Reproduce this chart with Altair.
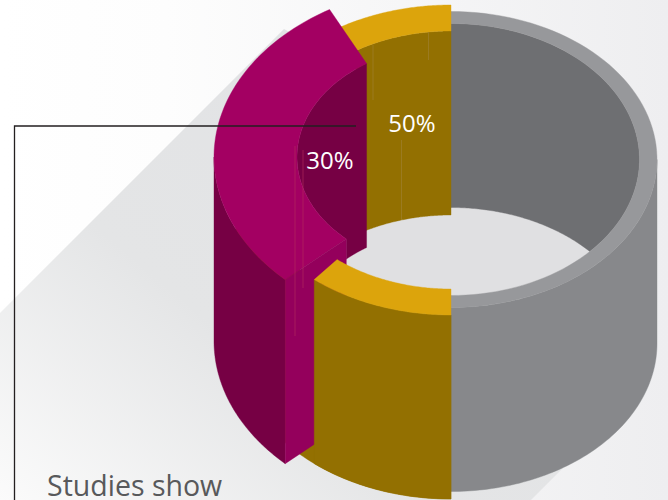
import numpy as np
import pandas as pd
import altair as alt

W, H = 668, 500

# Shares printed on the ring
share_labels = ["50%", "30%"]
share_values = [50, 30]
label_x = [412, 330]
label_y = [125, 161.5]

# Ring proportions: centre x, centre y, x radius, y radius
GREY_OUT = (451, 159.5, 206, 148)
GREY_IN = (451, 159.5, 188.5, 136)
GOLD_OUT = (451, 160, 215, 155)
GOLD_IN = (451, 160, 179, 129)
PLUM_OUT = (452, 157, 238, 172)
PLUM_IN = (452, 157, 155, 112)
DEPTH = 184

GOLD_START = 90
GOLD_FRONT_END = 129.5
PLUM_START = 134.5
# The pulled-out plum slice is slightly foreshortened by the tilt of the ring
PLUM_FORESHORTEN = 0.968
# Its inner edge is skewed against the outer one by a couple of degrees
PLUM_IN_START_SHIFT = -1.5
PLUM_IN_END_SHIFT = -2.5
GOLD_END = GOLD_START + share_values[0] * 3.6
PLUM_END = PLUM_START + share_values[1] * 3.6 * PLUM_FORESHORTEN
PLUM_IN_START = PLUM_START + PLUM_IN_START_SHIFT
PLUM_IN_END = PLUM_END + PLUM_IN_END_SHIFT

COLORS = {
    "grey_wall": "#87888b", "grey_rim": "#97989b", "grey_inner": "#6e6f72", "hole": "#e0e0e2",
    "gold_rim": "#dca40c", "gold_wall": "#937001",
    "plum_top": "#a30062", "plum_wall": "#760044", "plum_cut": "#94005c",
}

# Thin seams left on the faces: x, top, bottom, colour
seam_x = [295, 303, 373, 428.5, 401.5]
seam_top = [146, 150, 45, 32, 140]
seam_bottom = [336, 288, 100, 60, 220]
seam_color = ["#b8305e", "#b8305e", "#a2843a", "#a2843a", "#a2843a"]


def arc(e, t0, t1, dy=0, n=80):
    cx, cy, a, b = e
    t = np.radians(np.linspace(t0, t1, n))
    return list(zip(cx + a * np.cos(t), cy + b * np.sin(t) + dy))


def wall(e, t0, t1):
    return arc(e, t0, t1) + arc(e, t1, t0, DEPTH)


def band(outer, inner, t0, t1, in0=None, in1=None):
    return arc(outer, t0, t1) + arc(inner, t1 if in1 is None else in1, t0 if in0 is None else in0)


def at(e, t, dy=0):
    return arc(e, t, t, dy, 1)


# Where the upper rim of the far inner wall meets the hole outline on the grey side
cx, cy, a, b = GREY_IN
meet = np.degrees(np.arcsin(DEPTH / (2 * b)))
grey_inner = arc(GREY_IN, -90, meet) + arc(GREY_IN, -meet, -90, DEPTH)

# Plum inner wall: the hole outline stops where the cut face begins
plum_cut_x = at(PLUM_IN, PLUM_IN_START)[0][0]
plum_low = 180 + np.degrees(np.arccos((PLUM_IN[0] - plum_cut_x) / PLUM_IN[2]))
plum_inner = arc(PLUM_IN, PLUM_IN_END, PLUM_IN_START) + arc(PLUM_IN, plum_low, PLUM_IN_END, DEPTH)

plum_cut = (
    at(PLUM_OUT, PLUM_START)
    + at(PLUM_IN, PLUM_IN_START)
    + at(PLUM_IN, PLUM_IN_START, DEPTH)
    + at(PLUM_OUT, PLUM_START, DEPTH)
)

shapes = [
    ("grey_wall", wall(GREY_OUT, 0, 90)),
    ("hole", arc(GREY_IN, 0, 360, n=240)),
    ("grey_inner", grey_inner),
    ("grey_rim", band(GREY_OUT, GREY_IN, -90, 90)),
    ("gold_wall", wall(GOLD_OUT, GOLD_START, 180)),
    ("gold_wall", wall(GOLD_IN, 238, GOLD_END)),
    ("gold_rim", band(GOLD_OUT, GOLD_IN, 238, GOLD_END)),
    ("plum_wall", plum_inner),
    ("plum_wall", wall(PLUM_OUT, PLUM_START, 180)),
    ("plum_top", band(PLUM_OUT, PLUM_IN, PLUM_START, PLUM_END, PLUM_IN_START, PLUM_IN_END)),
    ("plum_cut", plum_cut),
    ("gold_wall", wall(GOLD_OUT, GOLD_START, GOLD_FRONT_END)),
    ("gold_rim", band(GOLD_OUT, GOLD_IN, GOLD_START, GOLD_FRONT_END)),
]

x_scale = alt.Scale(domain=[0, W], range=[0, W])
y_scale = alt.Scale(domain=[0, H], range=[0, H])
X = alt.X("x:Q", scale=x_scale, axis=None)
Y = alt.Y("y:Q", scale=y_scale, axis=None)


def polygon(points, fill, stroke=None):
    pts = list(points) + [points[0]]
    df = pd.DataFrame({"x": [p[0] for p in pts], "y": [p[1] for p in pts], "i": range(len(pts))})
    return alt.Chart(df).mark_line(fill=fill, stroke=stroke or fill, strokeWidth=0.4, clip=True).encode(
        x=X, y=Y, order=alt.Order("i:Q", sort="ascending")
    )


def grad(stops, x1, y1, x2, y2):
    return alt.Gradient(
        gradient="linear", x1=x1, y1=y1, x2=x2, y2=y2,
        stops=[alt.GradientStop(offset=o, color=c) for o, c in stops],
    )


backdrop = alt.Chart(pd.DataFrame({"x": [0], "x2": [W], "y": [0], "y2": [H]})).mark_rect(
    fill=grad([(0, "#ffffff"), (0.25, "#fdfdfd"), (0.6, "#f6f6f7"), (1, "#eeeef0")], 0, 0, 1, 0)
).encode(x=X, x2="x2:Q", y=Y, y2="y2:Q")

# Long cast shadow falling to the lower left of the ring
shadow_edge = [(0, 313), (284, 29), (340, 60), (563, 468), (531, 500), (0, 500)]
shadow = polygon(
    shadow_edge,
    grad([(0, "#fbfbfb"), (0.5, "#e4e5e6"), (1, "#e2e3e5")], 0, 1, 0.75, 0.25),
    "#00000000",
)

layers = [backdrop, shadow] + [polygon(pts, COLORS[name]) for name, pts in shapes]

seams = pd.DataFrame({"x": seam_x, "y": seam_top, "y2": seam_bottom, "c": seam_color})
layers.append(alt.Chart(seams).mark_rule(strokeWidth=0.7, opacity=0.8).encode(
    x=X, y=Y, y2="y2:Q", color=alt.Color("c:N", scale=None)))

# Leader line running from the labels out to the caption
leader = pd.DataFrame({"x": [356, 14.5, 14.5], "y": [126, 126, 500], "i": [0, 1, 2]})
layers.append(alt.Chart(leader).mark_line(color="#231f20", strokeWidth=1.3, clip=True).encode(
    x=X, y=Y, order=alt.Order("i:Q", sort="ascending")))

labels = pd.DataFrame({"x": label_x, "y": label_y, "t": share_labels})
layers.append(alt.Chart(labels).mark_text(
    font="Open Sans", fontSize=24, color="#ffffff", baseline="middle", align="center"
).encode(x=X, y=Y, text="t:N"))

caption = pd.DataFrame({"x": [47], "y": [495.5], "t": ["Studies show"]})
layers.append(alt.Chart(caption).mark_text(
    font="Open Sans", fontSize=28.5, color="#58595b", baseline="alphabetic", align="left"
).encode(x=X, y=Y, text="t:N"))

chart = alt.layer(*layers).properties(
    width=W, height=H, padding=0, autosize=alt.AutoSizeParams(type="none"), background="#ffffff"
).configure_view(stroke=None)

chart.save("out.html", embed_options={"renderer": "svg", "actions": False})
